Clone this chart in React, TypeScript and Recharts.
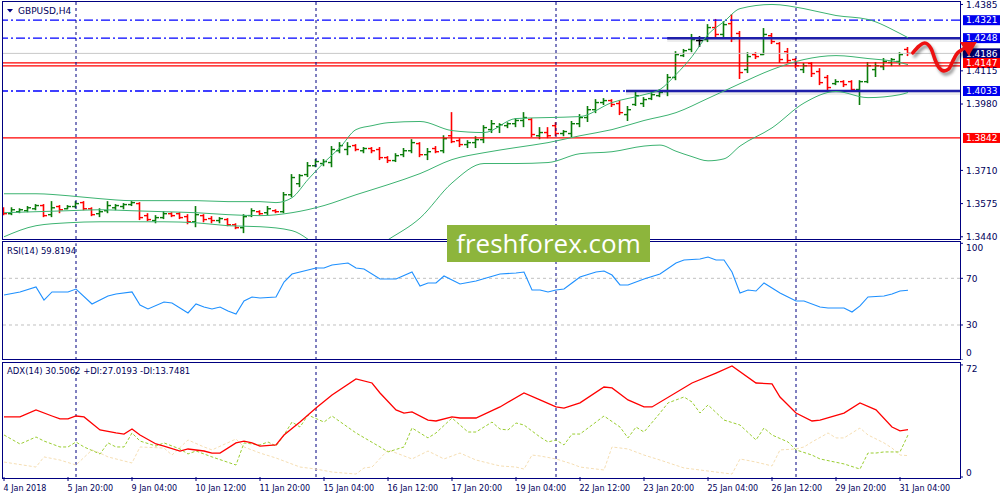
import React from 'react';
import { ComposedChart, Bar, Line, XAxis, YAxis, ReferenceLine, ReferenceArea } from 'recharts';

const FONT = '"DejaVu Sans", Verdana, sans-serif';
const NAVY = '#000080';
const TEXT = '#00005a';
const UP = '#0b7d0b';
const DOWN = '#ff0000';
const BB = '#3cb371';

// ---- time axis ----
const tickBars = [0, 8, 16, 24, 32, 40, 48, 56, 64, 72, 80, 88, 96, 104, 112];
const tickLabels = [
  '4 Jan 2018', '5 Jan 20:00', '9 Jan 04:00', '10 Jan 12:00', '11 Jan 20:00',
  '15 Jan 04:00', '16 Jan 12:00', '17 Jan 20:00', '19 Jan 04:00', '22 Jan 12:00',
  '23 Jan 20:00', '25 Jan 04:00', '26 Jan 12:00', '29 Jan 20:00', '31 Jan 04:00',
];
const weekStarts = [9, 39, 69, 99];

// ---- GBPUSD H4 OHLC ----
const opens = [
  1.3554, 1.3534, 1.3542, 1.3546, 1.3554, 1.3567, 1.3530, 1.3563, 1.3554, 1.3563,
  1.3579, 1.3554, 1.3534, 1.3546, 1.3558, 1.3563, 1.3571, 1.3575, 1.3526, 1.3506,
  1.3518, 1.3534, 1.3534, 1.3522, 1.3501, 1.3526, 1.3514, 1.3506, 1.3510, 1.3489,
  1.3477, 1.3526, 1.3542, 1.3538, 1.3546, 1.3542, 1.3611, 1.3656, 1.3693, 1.3729,
  1.3738, 1.3742, 1.3790, 1.3795, 1.3811, 1.3790, 1.3799, 1.3795, 1.3762, 1.3750,
  1.3774, 1.3790, 1.3819, 1.3774, 1.3799, 1.3790, 1.3851, 1.3831, 1.3815, 1.3823,
  1.3835, 1.3876, 1.3888, 1.3892, 1.3900, 1.3913, 1.3917, 1.3851, 1.3864, 1.3892,
  1.3860, 1.3860, 1.3900, 1.3925, 1.3957, 1.3986, 1.3994, 1.3982, 1.3937, 1.3978,
  1.3982, 1.4002, 1.4014, 1.4031, 1.4088, 1.4177, 1.4202, 1.4238, 1.4242, 1.4291,
  1.4263, 1.4307, 1.4267, 1.4120, 1.4181, 1.4181, 1.4258, 1.4226, 1.4193, 1.4161,
  1.4120, 1.4145, 1.4112, 1.4088, 1.4063, 1.4071, 1.4071, 1.4039, 1.4071, 1.4120,
  1.4132, 1.4149, 1.4153, 1.4202,
];
const highs = [
  1.3558, 1.3558, 1.3554, 1.3563, 1.3571, 1.3571, 1.3583, 1.3567, 1.3567, 1.3583,
  1.3583, 1.3558, 1.3554, 1.3583, 1.3571, 1.3575, 1.3583, 1.3579, 1.3534, 1.3526,
  1.3542, 1.3538, 1.3538, 1.3530, 1.3563, 1.3530, 1.3522, 1.3518, 1.3514, 1.3493,
  1.3530, 1.3554, 1.3546, 1.3563, 1.3550, 1.3620, 1.3693, 1.3693, 1.3742, 1.3754,
  1.3754, 1.3807, 1.3823, 1.3823, 1.3815, 1.3803, 1.3803, 1.3803, 1.3766, 1.3778,
  1.3799, 1.3835, 1.3823, 1.3799, 1.3807, 1.3851, 1.3945, 1.3839, 1.3831, 1.3847,
  1.3892, 1.3913, 1.3900, 1.3904, 1.3921, 1.3945, 1.3921, 1.3884, 1.3884, 1.3904,
  1.3872, 1.3909, 1.3937, 1.3970, 1.3998, 1.4002, 1.3998, 1.3994, 1.3970, 1.4027,
  1.4006, 1.4027, 1.4039, 1.4100, 1.4193, 1.4202, 1.4263, 1.4254, 1.4303, 1.4324,
  1.4315, 1.4344, 1.4275, 1.4189, 1.4189, 1.4287, 1.4267, 1.4230, 1.4206, 1.4165,
  1.4145, 1.4149, 1.4124, 1.4096, 1.4079, 1.4075, 1.4075, 1.4075, 1.4149, 1.4149,
  1.4165, 1.4165, 1.4189, 1.4210,
];
const lows = [
  1.3530, 1.3530, 1.3538, 1.3542, 1.3550, 1.3522, 1.3522, 1.3538, 1.3554, 1.3558,
  1.3550, 1.3526, 1.3522, 1.3538, 1.3550, 1.3554, 1.3567, 1.3510, 1.3506, 1.3497,
  1.3514, 1.3522, 1.3514, 1.3493, 1.3481, 1.3501, 1.3497, 1.3497, 1.3485, 1.3473,
  1.3457, 1.3522, 1.3530, 1.3530, 1.3538, 1.3538, 1.3603, 1.3644, 1.3685, 1.3725,
  1.3729, 1.3725, 1.3782, 1.3774, 1.3790, 1.3782, 1.3782, 1.3754, 1.3742, 1.3746,
  1.3766, 1.3782, 1.3766, 1.3754, 1.3782, 1.3782, 1.3823, 1.3807, 1.3803, 1.3803,
  1.3823, 1.3864, 1.3864, 1.3884, 1.3888, 1.3888, 1.3847, 1.3839, 1.3843, 1.3851,
  1.3851, 1.3847, 1.3888, 1.3909, 1.3945, 1.3978, 1.3970, 1.3937, 1.3913, 1.3974,
  1.3970, 1.3998, 1.4010, 1.4014, 1.4079, 1.4173, 1.4193, 1.4214, 1.4234, 1.4250,
  1.4250, 1.4234, 1.4084, 1.4108, 1.4165, 1.4181, 1.4226, 1.4149, 1.4149, 1.4128,
  1.4108, 1.4092, 1.4059, 1.4039, 1.4059, 1.4051, 1.4035, 1.3978, 1.4067, 1.4092,
  1.4120, 1.4136, 1.4140, 1.4177,
];
const closes = [
  1.3534, 1.3550, 1.3550, 1.3558, 1.3567, 1.3526, 1.3558, 1.3550, 1.3563, 1.3575,
  1.3554, 1.3530, 1.3542, 1.3567, 1.3567, 1.3571, 1.3579, 1.3518, 1.3510, 1.3518,
  1.3534, 1.3526, 1.3518, 1.3501, 1.3530, 1.3510, 1.3506, 1.3514, 1.3489, 1.3477,
  1.3522, 1.3546, 1.3534, 1.3554, 1.3542, 1.3611, 1.3681, 1.3689, 1.3729, 1.3746,
  1.3746, 1.3795, 1.3811, 1.3807, 1.3795, 1.3799, 1.3790, 1.3762, 1.3750, 1.3770,
  1.3790, 1.3823, 1.3774, 1.3786, 1.3786, 1.3839, 1.3827, 1.3815, 1.3823, 1.3835,
  1.3884, 1.3900, 1.3896, 1.3900, 1.3913, 1.3925, 1.3856, 1.3864, 1.3851, 1.3860,
  1.3868, 1.3900, 1.3925, 1.3957, 1.3986, 1.3994, 1.3978, 1.3945, 1.3957, 1.4014,
  1.3998, 1.4018, 1.4027, 1.4088, 1.4181, 1.4197, 1.4242, 1.4238, 1.4291, 1.4263,
  1.4303, 1.4246, 1.4108, 1.4173, 1.4173, 1.4263, 1.4234, 1.4161, 1.4157, 1.4136,
  1.4136, 1.4104, 1.4067, 1.4047, 1.4071, 1.4059, 1.4039, 1.4071, 1.4136, 1.4136,
  1.4153, 1.4161, 1.4181, 1.4186,
];

// ---- Bollinger bands (read at [bar, price]) ----
const bbUpper = [
  [0, 1.3615], [4, 1.3615], [8, 1.3607], [12, 1.3595], [16, 1.3587], [20, 1.3587], [24, 1.3587],
  [28, 1.3583], [32, 1.3583], [34, 1.3579], [36, 1.3599], [38, 1.3673], [40, 1.3742], [42, 1.3803],
  [44, 1.3876], [46, 1.3892], [48, 1.3904], [52, 1.3909], [56, 1.3872], [60, 1.3864], [64, 1.3921],
  [68, 1.3925], [72, 1.3929], [76, 1.3986], [80, 1.4018], [82, 1.4039], [84, 1.4100], [86, 1.4173],
  [88, 1.4263], [90, 1.4315], [92, 1.4368], [96, 1.4385], [100, 1.4368], [104, 1.4340],
  [108, 1.4324], [112, 1.4267], [113, 1.4250],
];
const bbMiddle = [
  [0, 1.3538], [4, 1.3542], [8, 1.3546], [12, 1.3550], [16, 1.3546], [20, 1.3542], [24, 1.3538],
  [28, 1.3530], [32, 1.3526], [36, 1.3538], [40, 1.3567], [44, 1.3611], [48, 1.3652], [52, 1.3697],
  [56, 1.3754], [60, 1.3782], [64, 1.3803], [68, 1.3823], [72, 1.3851], [76, 1.3876], [80, 1.3913],
  [84, 1.3945], [88, 1.4003], [92, 1.4063], [96, 1.4120], [100, 1.4161], [104, 1.4177],
  [108, 1.4165], [112, 1.4149], [113, 1.4140],
];
const bbLower = [
  [0, 1.3440], [4, 1.3485], [8, 1.3497], [12, 1.3501], [16, 1.3501], [20, 1.3501], [24, 1.3497],
  [28, 1.3485], [32, 1.3481], [36, 1.3465], [40, 1.3388], [44, 1.3347], [48, 1.3428], [52, 1.3516],
  [56, 1.3659], [60, 1.3738], [64, 1.3738], [68, 1.3742], [72, 1.3778], [76, 1.3786], [80, 1.3809],
  [82, 1.3813], [84, 1.3788], [86, 1.3766], [88, 1.3749], [90, 1.3757], [92, 1.3809], [96, 1.3883],
  [100, 1.3984], [104, 1.4031], [108, 1.4006], [112, 1.4018], [113, 1.4027],
];

// ---- RSI(14) ----
const rsiPts = [
  [0, 55.7], [2, 58.3], [4, 62.6], [5, 51.4], [6, 58.3], [7, 58.3], [8, 58.3], [9, 60.8], [11, 48.0],
  [13, 54.8], [14, 56.6], [16, 58.3], [17, 47.1], [18, 43.7], [20, 49.7], [21, 48.9], [23, 40.3],
  [24, 48.0], [25, 45.4], [26, 43.7], [27, 45.4], [28, 42.0], [29, 39.4], [30, 50.6], [31, 54.0],
  [32, 53.1], [34, 54.0], [35, 66.8], [36, 73.7], [38, 77.1], [39, 78.8], [40, 78.8], [41, 81.4],
  [43, 83.1], [44, 78.8], [45, 78.0], [47, 69.4], [49, 69.4], [51, 75.4], [52, 63.4], [53, 66.0],
  [54, 66.0], [55, 72.0], [57, 65.1], [59, 67.7], [62, 73.7], [64, 74.6], [65, 75.4], [66, 60.0],
  [67, 60.0], [68, 58.3], [69, 60.0], [70, 60.8], [71, 66.0], [72, 71.1], [74, 75.4], [75, 76.3],
  [76, 72.8], [77, 64.3], [78, 64.3], [80, 69.4], [82, 73.7], [84, 83.1], [85, 85.7], [87, 86.6],
  [88, 88.3], [89, 85.7], [90, 85.7], [91, 75.4], [92, 57.4], [93, 60.0], [94, 59.1], [95, 66.0],
  [97, 57.4], [98, 54.0], [99, 50.6], [100, 50.6], [102, 45.4], [103, 44.6], [105, 44.6],
  [106, 41.1], [107, 46.3], [108, 54.0], [110, 54.8], [111, 56.6], [112, 59.1], [113, 59.8194],
];

// ---- ADX(14), +DI, -DI ----
const adxPts = [
  [0, 38.6], [2, 38.6], [4, 43.1], [6, 39.2], [7, 37.3], [8, 37.3], [9, 39.2], [10, 38.6], [12, 30.2],
  [14, 28.3], [15, 27.6], [16, 30.8], [17, 27.0], [19, 21.2], [20, 19.9], [22, 16.7], [23, 18.0],
  [25, 16.7], [26, 15.4], [27, 15.4], [29, 21.9], [30, 23.1], [31, 21.9], [32, 19.9], [34, 20.6],
  [35, 27.0], [37, 35.3], [39, 44.3], [41, 52.7], [44, 63.0], [46, 60.4], [47, 54.0], [49, 43.1],
  [50, 41.1], [51, 41.8], [53, 36.6], [54, 36.0], [56, 38.6], [57, 37.9], [59, 37.9], [62, 45.0],
  [65, 54.0], [67, 49.5], [69, 45.0], [70, 44.3], [72, 47.6], [75, 57.8], [76, 57.2], [78, 49.5],
  [80, 45.0], [81, 45.0], [86, 60.4], [89, 66.8], [91, 71.3], [94, 60.4], [96, 59.8], [97, 51.4],
  [99, 41.1], [101, 36.0], [102, 36.6], [105, 41.1], [107, 47.6], [109, 43.1], [111, 32.1],
  [112, 29.6], [113, 30.5062],
];
const plusDiPts = [
  [0, 27.0], [2, 21.2], [4, 25.7], [5, 23.1], [7, 19.3], [8, 19.3], [9, 22.5], [10, 19.3], [12, 14.8],
  [13, 21.9], [14, 19.3], [15, 19.3], [16, 28.3], [17, 23.1], [19, 19.9], [20, 21.9], [22, 18.0],
  [23, 14.8], [24, 16.7], [26, 12.9], [29, 7.7], [30, 21.9], [32, 20.6], [33, 22.5], [34, 19.9],
  [35, 27.0], [36, 35.3], [37, 32.1], [38, 39.8], [40, 35.3], [41, 39.2], [44, 28.3], [47, 19.3],
  [48, 16.1], [50, 19.3], [51, 31.5], [53, 25.1], [54, 28.3], [56, 37.9], [58, 28.9], [59, 28.9],
  [61, 35.3], [62, 30.8], [63, 30.2], [64, 34.7], [65, 33.4], [67, 25.7], [68, 22.5], [69, 23.8],
  [70, 20.6], [71, 27.6], [72, 27.6], [74, 35.3], [75, 39.2], [77, 32.1], [78, 25.1], [79, 32.1],
  [80, 28.9], [82, 41.1], [83, 47.6], [85, 51.4], [86, 48.2], [87, 41.1], [88, 46.3], [90, 36.6],
  [92, 33.4], [94, 23.8], [95, 31.5], [96, 27.0], [98, 22.5], [99, 17.4], [101, 14.1], [102, 11.6],
  [105, 8.4], [107, 5.1], [108, 15.4], [109, 15.4], [110, 16.1], [112, 16.1], [113, 27.0193],
];
const minusDiPts = [
  [0, 9.6], [4, 6.4], [5, 12.9], [7, 10.9], [9, 7.7], [11, 17.4], [12, 15.4], [13, 12.9], [16, 9.0],
  [17, 19.3], [20, 18.6], [21, 14.1], [23, 23.8], [25, 19.3], [26, 17.4], [29, 24.4], [30, 19.3],
  [32, 15.4], [34, 12.2], [37, 6.4], [39, 5.1], [41, 3.2], [44, 1.9], [45, 5.8], [46, 6.4], [48, 17.4],
  [51, 11.6], [53, 16.7], [55, 11.6], [57, 15.4], [59, 10.9], [62, 7.1], [64, 6.4], [65, 5.1],
  [66, 14.1], [67, 13.5], [69, 11.6], [71, 8.4], [72, 6.4], [75, 4.5], [76, 19.3], [78, 18.0],
  [80, 14.1], [82, 10.9], [85, 5.8], [89, 3.2], [91, 1.9], [92, 11.6], [94, 9.6], [96, 7.1],
  [97, 17.4], [99, 18.0], [100, 19.3], [101, 22.5], [103, 28.3], [104, 25.1], [105, 25.1],
  [107, 31.5], [108, 27.0], [110, 21.9], [111, 18.6], [112, 14.1], [113, 13.7481],
];

// ---- price levels ----
const priceTicks = [1.4385, 1.4115, 1.3980, 1.3710, 1.3575, 1.3440];
const blueLevels = [1.4321, 1.4248, 1.4033];
const redLevels = [1.4147, 1.3842];
const redExtraLevel = 1.4135;
const bidPrice = 1.4186;
const zones = [
  { price: 1.4248, fromBar: 82.9 },
  { price: 1.4033, fromBar: 77.75 },
];

// hand-drawn forecast arrow, [bar, price]
const arrowPts = [
  [113.6, 1.4188], [114.4, 1.4216], [115.1, 1.4228], [115.9, 1.4204], [116.4, 1.4159],
  [116.9, 1.4127], [117.5, 1.4115], [118.1, 1.4123], [118.6, 1.4155], [119.1, 1.4184],
  [119.6, 1.4198], [120.1, 1.4208],
];

// ---- build tables ----
type Row = Record<string, any>;
const rows: Row[] = opens.map((o, i) => ({
  i, o, h: highs[i], l: lows[i], c: closes[i], range: [lows[i], highs[i]],
  up: null, mid: null, lo: null, rsi: null, adx: null, pdi: null, mdi: null,
}));
const put = (pts: number[][], key: string) => pts.forEach(([i, v]) => { rows[i][key] = v; });
put(bbUpper, 'up');
put(bbMiddle, 'mid');
put(bbLower, 'lo');
put(rsiPts, 'rsi');
put(adxPts, 'adx');
put(plusDiPts, 'pdi');
put(minusDiPts, 'mdi');
const arrowRows = arrowPts.map(([i, p]) => ({ i, p }));

const X_DOMAIN: [number, number] = [-0.125, 119.5];
const PRICE_DOMAIN: [number, number] = [1.3431, 1.4395];

const OhlcShape = (props: any) => {
  const { x, y, width, height, payload } = props;
  if (x == null || y == null) return <g />;
  const cx = x + width / 2;
  const top = Math.min(y, y + height);
  const bot = Math.max(y, y + height);
  const { o, h, l, c } = payload;
  const span = h - l || 1;
  const yOf = (v: number) => top + ((h - v) / span) * (bot - top);
  const color = c > o ? UP : c < o ? DOWN : '#000000';
  return (
    <g>
      <line x1={cx} x2={cx} y1={top - 0.5} y2={bot + 0.5} stroke={color} strokeWidth={1.6} />
      <line x1={cx - 3.5} x2={cx} y1={yOf(o)} y2={yOf(o)} stroke={color} strokeWidth={1.4} />
      <line x1={cx} x2={cx + 3.5} y1={yOf(c)} y2={yOf(c)} stroke={color} strokeWidth={1.4} />
    </g>
  );
};

const PriceTick = (props: any) => {
  const { x, y, payload } = props;
  return (
    <text x={x} y={y} dy={3.2} textAnchor="start" fontSize={9} fontFamily={FONT} fill={TEXT}>
      {Number(payload.value).toFixed(4)}
    </text>
  );
};

const makeIndTick = (shift: Record<number, number>) => (props: any) => {
  const { x, y, payload } = props;
  return (
    <text x={x} y={y} dy={shift[payload.value] ?? 3.2} textAnchor="start" fontSize={9} fontFamily={FONT} fill={TEXT}>
      {payload.value}
    </text>
  );
};
const RsiTick = makeIndTick({ 100: 8, 70: 3.2, 30: 3.2, 0: -3.8 });
const AdxTick = makeIndTick({ 72: 7.2, 0: -0.8 });

const TimeTick = (props: any) => {
  const { x, y, payload } = props;
  const label = tickLabels[tickBars.indexOf(payload.value)];
  return (
    <text x={x - 0.5} y={y} dy={8.5} textAnchor="start" fontSize={8} fontFamily={FONT} fill={TEXT}>
      {label}
    </text>
  );
};

const levelLabel = (text: string, bg: string) => (props: any) => {
  const vb = props.viewBox || {};
  const x = (vb.x ?? 0) + (vb.width ?? 0);
  const y = vb.y ?? 0;
  return (
    <g>
      <rect x={x + 3} y={y - 5} width={37} height={10} fill={bg} />
      <text x={x + 6} y={y} dy={3.2} textAnchor="start" fontSize={9} fontFamily={FONT} fill="#ffffff">
        {text}
      </text>
    </g>
  );
};

const ArrowHead = (props: any) => {
  const { cx, cy, index } = props;
  if (index !== arrowRows.length - 1 || cx == null) return <g key={`a${index}`} />;
  return (
    <polygon
      key={`a${index}`}
      points={`${cx + 12},${cy - 6} ${cx + 4},${cy + 8} ${cx - 5},${cy - 6}`}
      fill="#ee1111"
    />
  );
};

const frame = (top: number, height: number): React.CSSProperties => ({
  position: 'absolute', left: 2, top, width: 959, height, boxSizing: 'border-box',
  border: `1px solid ${NAVY}`, pointerEvents: 'none',
});

const labelStyle: React.CSSProperties = {
  position: 'absolute', fontFamily: FONT, color: TEXT, whiteSpace: 'nowrap', lineHeight: '10px',
};

export default function App() {
  return (
    <div style={{ position: 'absolute', left: 0, top: 0, width: 1000, height: 500, background: '#ffffff', overflow: 'hidden' }}>
      {/* main price panel */}
      <div style={{ position: 'absolute', left: 0, top: 0 }}>
        <ComposedChart width={1000} height={241} data={rows} margin={{ top: 2, right: 0, bottom: 2, left: 3 }}>
          <XAxis dataKey="i" type="number" domain={X_DOMAIN} allowDataOverflow hide />
          <YAxis
            orientation="right" width={40} domain={PRICE_DOMAIN} allowDataOverflow ticks={priceTicks}
            interval={0} tick={PriceTick} tickSize={3} tickMargin={3} axisLine={false}
            tickLine={{ stroke: NAVY }}
          />
          {zones.map((z) => (
            <ReferenceArea key={`za${z.price}`} x1={z.fromBar} x2={X_DOMAIN[1]} y1={z.price - 0.0016} y2={z.price + 0.0005}
              fill="#000000" fillOpacity={0.07} stroke="none" />
          ))}
          <ReferenceLine y={bidPrice} stroke="#c8c8c8" strokeWidth={1} label={levelLabel('1.4186', '#000080')} />
          {blueLevels.map((p) => (
            <ReferenceLine key={`b${p}`} y={p} stroke="#0000ff" strokeWidth={1.3} strokeDasharray="9 3 2 3"
              label={levelLabel(p.toFixed(4), '#0000ee')} />
          ))}
          <ReferenceLine y={redExtraLevel} stroke="#ff0000" strokeWidth={1.3} />
          {redLevels.map((p) => (
            <ReferenceLine key={`r${p}`} y={p} stroke="#ff0000" strokeWidth={1.3} label={levelLabel(p.toFixed(4), '#ff0000')} />
          ))}
          {zones.map((z) => (
            <ReferenceLine key={`z${z.price}`} segment={[{ x: z.fromBar, y: z.price }, { x: X_DOMAIN[1], y: z.price }]}
              stroke="#1e1eaa" strokeWidth={2.5} />
          ))}
          {weekStarts.map((b) => (
            <ReferenceLine key={`w${b}`} x={b} stroke={NAVY} strokeDasharray="3 3" strokeWidth={1} />
          ))}
          <Line dataKey="up" type="monotone" stroke={BB} strokeWidth={1} dot={false} connectNulls isAnimationActive={false} />
          <Line dataKey="mid" type="monotone" stroke={BB} strokeWidth={1} dot={false} connectNulls isAnimationActive={false} />
          <Line dataKey="lo" type="monotone" stroke={BB} strokeWidth={1} dot={false} connectNulls isAnimationActive={false} />
          <Bar dataKey="range" barSize={7} shape={OhlcShape} isAnimationActive={false} />
        </ComposedChart>
      </div>

      {/* RSI panel */}
      <div style={{ position: 'absolute', left: 0, top: 240 }}>
        <ComposedChart width={1000} height={120} data={rows} margin={{ top: 3.3, right: 0, bottom: 0, left: 3 }}>
          <XAxis dataKey="i" type="number" domain={X_DOMAIN} allowDataOverflow hide />
          <YAxis orientation="right" width={40} domain={[0, 100]} ticks={[0, 30, 70, 100]} interval={0}
            tick={RsiTick} tickSize={3} tickMargin={3} axisLine={false} tickLine={{ stroke: NAVY }} />
          <ReferenceLine y={70} stroke="#c0c0c0" strokeDasharray="3 3" />
          <ReferenceLine y={30} stroke="#c0c0c0" strokeDasharray="3 3" />
          {weekStarts.map((b) => (
            <ReferenceLine key={`w${b}`} x={b} stroke={NAVY} strokeDasharray="3 3" strokeWidth={1} />
          ))}
          <Line dataKey="rsi" type="linear" stroke="#1e90ff" strokeWidth={1.1} dot={false} connectNulls isAnimationActive={false} />
        </ComposedChart>
      </div>

      {/* ADX panel */}
      <div style={{ position: 'absolute', left: 0, top: 360 }}>
        <ComposedChart width={1000} height={140} data={rows} margin={{ top: 4, right: 0, bottom: 3, left: 3 }}>
          <XAxis dataKey="i" type="number" domain={X_DOMAIN} allowDataOverflow ticks={tickBars} interval={0}
            tick={TimeTick} tickSize={4} tickMargin={1} axisLine={false} tickLine={{ stroke: NAVY }} height={20} />
          <YAxis orientation="right" width={40} domain={[0, 72.6]} ticks={[0, 72]} interval={0}
            tick={AdxTick} tickSize={3} tickMargin={3} axisLine={false} tickLine={{ stroke: NAVY }} />
          {weekStarts.map((b) => (
            <ReferenceLine key={`w${b}`} x={b} stroke={NAVY} strokeDasharray="3 3" strokeWidth={1} />
          ))}
          <Line dataKey="mdi" type="linear" stroke="#f5deb3" strokeWidth={1} strokeDasharray="3 2" dot={false} connectNulls isAnimationActive={false} />
          <Line dataKey="pdi" type="linear" stroke="#9acd32" strokeWidth={1} strokeDasharray="3 2" dot={false} connectNulls isAnimationActive={false} />
          <Line dataKey="adx" type="linear" stroke="#ff0000" strokeWidth={1.3} dot={false} connectNulls isAnimationActive={false} />
        </ComposedChart>
      </div>

      {/* panel frames */}
      <div style={frame(1, 239)} />
      <div style={frame(241, 119)} />
      <div style={frame(362, 117)} />

      {/* forecast arrow overlay */}
      <div style={{ position: 'absolute', left: 0, top: 0, pointerEvents: 'none', filter: 'drop-shadow(2px 3px 1.5px rgba(0,0,0,0.4))' }}>
        <ComposedChart width={1000} height={241} data={arrowRows} margin={{ top: 2, right: 0, bottom: 2, left: 3 }}>
          <XAxis dataKey="i" type="number" domain={[-0.125, 124.5]} hide height={0} />
          <YAxis domain={PRICE_DOMAIN} hide width={0} />
          <Line dataKey="p" type="monotone" stroke="#ee1111" strokeWidth={3.6} strokeLinecap="round"
            dot={ArrowHead} isAnimationActive={false} />
        </ComposedChart>
      </div>

      {/* titles */}
      <svg style={{ position: 'absolute', left: 7, top: 9 }} width={7} height={4}>
        <polygon points="0,0 6,0 3,3.5" fill={NAVY} />
      </svg>
      <div style={{ ...labelStyle, left: 18, top: 6, fontSize: 9 }}>GBPUSD,H4</div>
      <div style={{ ...labelStyle, left: 7, top: 246, fontSize: 8.5 }}>RSI(14) 59.8194</div>
      <div style={{ ...labelStyle, left: 7, top: 366, fontSize: 8.5 }}>ADX(14) 30.5062 +DI:27.0193 -DI:13.7481</div>

      {/* watermark */}
      <div style={{
        position: 'absolute', left: 447, top: 225, width: 203, height: 37, background: '#8db53c',
        color: '#ffffff', fontFamily: '"Open Sans", sans-serif', fontSize: 26, lineHeight: '36px', textAlign: 'center',
      }}>freshforex.com</div>
    </div>
  );
}
